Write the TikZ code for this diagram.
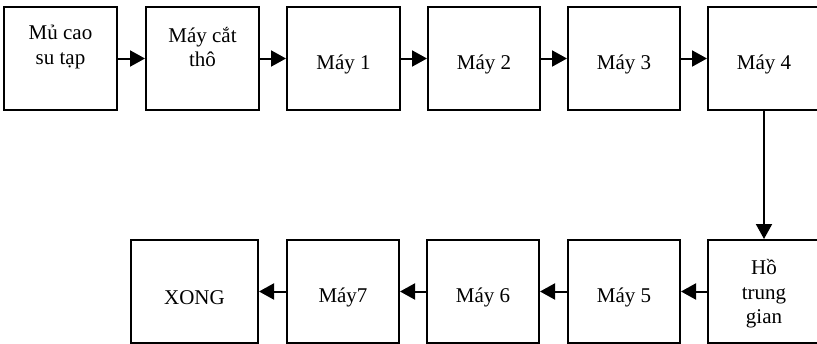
\documentclass[tikz,border=0pt]{standalone}
\usepackage{fontspec}
\setmainfont{Liberation Serif}
\usetikzlibrary{arrows.meta}
\begin{document}
\begin{tikzpicture}[x=1pt,y=-1pt,
  box/.style={draw, line width=2pt, minimum height=103pt, inner sep=0pt},
  txt/.style={align=center, font=\fontsize{21}{24.5}\selectfont, inner sep=0pt},
  lbl/.style={label={[txt, yshift=-6pt]center:#1}},
  flow/.style={line width=2pt, -{Triangle[length=15pt,width=16pt]}}]
\useasboundingbox (0,0) rectangle (817,343);
% top row
\node[box, minimum width=113pt] (b1) at (60.5,58.5) {};
\node[box, minimum width=113pt] (b2) at (202.5,58.5) {};
\node[box, minimum width=113pt, lbl={Máy 1}] (b3) at (343.5,58.5) {};
\node[box, minimum width=112pt, lbl={Máy 2}] (b4) at (484,58.5) {};
\node[box, minimum width=112pt, lbl={Máy 3}] (b5) at (624,58.5) {};
\node[box, minimum width=112pt, lbl={Máy 4}] (b6) at (764,58.5) {};
\node[txt] (t1) at (60.5,47) {Mủ cao\\su tạp};
\node[txt] (t2) at (202.5,47) {Máy cắt\\thô};
% bottom row
\node[box, minimum width=127pt, lbl={XONG}] (c1) at (194.5,291.5) {};
\node[box, minimum width=112pt, lbl={Máy7}] (c2) at (343,291.5) {};
\node[box, minimum width=112pt, lbl={Máy 6}] (c3) at (483,291.5) {};
\node[box, minimum width=112pt, lbl={Máy 5}] (c4) at (624,291.5) {};
\node[box, minimum width=112pt] (c5) at (764,291.5) {};
\node[txt] (t3) at (764,294) {Hồ\\trung\\gian};
% connectors
\draw[flow] (b1) -- (b2);
\draw[flow] (b2) -- (b3);
\draw[flow] (b3) -- (b4);
\draw[flow] (b4) -- (b5);
\draw[flow] (b5) -- (b6);
\draw[flow] (b6) -- (c5);
\draw[flow] (c5) -- (c4);
\draw[flow] (c4) -- (c3);
\draw[flow] (c3) -- (c2);
\draw[flow] (c2) -- (c1);
\end{tikzpicture}
\end{document}
